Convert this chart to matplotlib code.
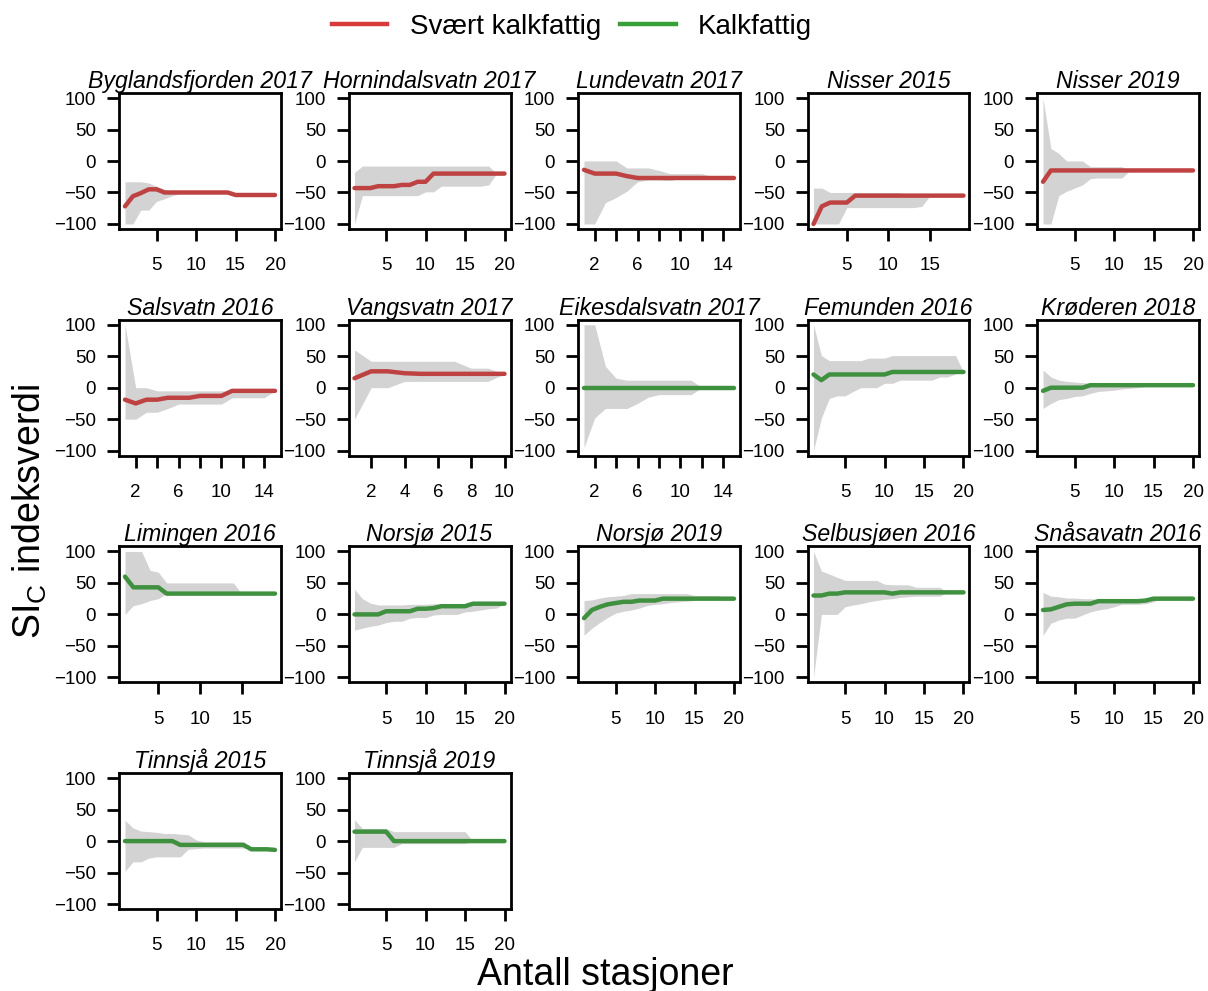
import numpy as np
import matplotlib
matplotlib.use('Agg')
import matplotlib.pyplot as plt
from matplotlib.lines import Line2D

plt.rcParams['font.family'] = 'Liberation Sans'
plt.rcParams['mathtext.fontset'] = 'custom'
plt.rcParams['mathtext.rm'] = 'Liberation Sans'
plt.rcParams['axes.unicode_minus'] = True

# lakes, in the order they are drawn
lakes = ['Byglandsfjorden 2017', 'Hornindalsvatn 2017', 'Lundevatn 2017', 'Nisser 2015',
         'Nisser 2019', 'Salsvatn 2016', 'Vangsvatn 2017', 'Eikesdalsvatn 2017',
         'Femunden 2016', 'Krøderen 2018', 'Limingen 2016', 'Norsjø 2015',
         'Norsjø 2019', 'Selbusjøen 2016', 'Snåsavatn 2016', 'Tinnsjå 2015',
         'Tinnsjå 2019']
lake_type = ['Svært kalkfattig'] * 7 + ['Kalkfattig'] * 10

# mean index value and range for 1..n stations
bygl_mid = [-72, -56, -51, -45, -45, -50, -50, -50, -50, -50, -50, -50, -50, -50, -54, -54, -54, -54, -54, -54]
bygl_hi = [-33, -33, -33, -35, -40, -45, -48, -48, -48, -48, -48, -48, -48, -49, -51, -54, -54, -54, -54, -54]
bygl_lo = [-100, -100, -78, -78, -64, -60, -55, -52, -52, -52, -52, -52, -52, -52, -54, -54, -54, -54, -54, -54]

horn_mid = [-43, -43, -43, -40, -40, -40, -38, -38, -33, -33, -20, -20, -20, -20, -20, -20, -20, -20, -20, -20]
horn_hi = [-18, -8, -8, -8, -8, -8, -8, -8, -8, -8, -8, -8, -8, -8, -8, -8, -8, -8, -20, -20]
horn_lo = [-100, -55, -55, -55, -55, -55, -55, -55, -55, -49, -49, -40, -40, -40, -40, -40, -40, -38, -20, -20]

lund_mid = [-14, -20, -20, -20, -24, -27, -27, -27, -27, -27, -27, -27, -27, -27, -27]
lund_hi = [0, 0, 0, 0, -11, -11, -11, -15, -20, -20, -20, -20, -25, -27, -27]
lund_lo = [-100, -100, -66, -58, -48, -33, -30, -30, -31, -28, -27, -27, -27, -27, -27]

nis15_mid = [-100, -72, -66, -66, -66, -55, -55, -55, -55, -55, -55, -55, -55, -55, -55, -55, -55, -55, -55]
nis15_hi = [-43, -43, -50, -50, -50, -50, -50, -50, -50, -50, -50, -52, -54, -55, -55, -55, -55, -55, -55]
nis15_lo = [-100, -100, -100, -100, -74, -74, -74, -74, -74, -74, -74, -74, -74, -72, -55, -55, -55, -55, -55]

nis19_mid = [-33, -15, -15, -15, -15, -15, -15, -15, -15, -15, -15, -15, -15, -15, -15, -15, -15, -15, -15, -15]
nis19_hi = [100, 20, 12, 0, 0, 0, -9, -9, -9, -9, -9, -15, -15, -15, -15, -15, -15, -15, -15, -15]
nis19_lo = [-100, -100, -55, -48, -43, -38, -28, -27, -27, -27, -27, -15, -15, -15, -15, -15, -15, -15, -15, -15]

sals_mid = [-19, -25, -19, -19, -16, -16, -16, -13, -13, -13, -5, -5, -5, -5, -5]
sals_hi = [100, 0, 0, -5, -5, -5, -5, -5, -5, -5, -5, -5, -5, -5, -5]
sals_lo = [-50, -50, -39, -39, -33, -26, -26, -26, -26, -26, -16, -16, -16, -16, -5]

vang_mid = [15, 26, 26, 23, 22, 22, 22, 22, 22, 22]
vang_hi = [60, 42, 42, 42, 42, 42, 42, 31, 31, 22]
vang_lo = [-50, 0, 0, 10, 10, 10, 10, 10, 10, 22]

eike_mid = [0, 0, 0, 0, 0, 0, 0, 0, 0, 0, 0, 0, 0, 0, 0]
eike_hi = [100, 100, 34, 15, 12, 12, 12, 12, 12, 12, 12, 0, 0, 0, 0]
eike_lo = [-95, -48, -33, -33, -33, -25, -15, -11, -11, -11, -11, 0, 0, 0, 0]

femu_mid = [21, 12, 21, 21, 21, 21, 21, 21, 21, 21, 25, 25, 25, 25, 25, 25, 25, 25, 25, 25]
femu_hi = [100, 51, 43, 43, 43, 43, 43, 47, 47, 47, 51, 51, 51, 51, 51, 51, 51, 51, 51, 25]
femu_lo = [-100, -48, -17, -13, -13, -6, 0, 0, 0, 7, 7, 12, 12, 12, 12, 12, 17, 17, 22, 25]

krod_mid = [-5, 0, 0, 0, 0, 0, 4, 4, 4, 4, 4, 4, 4, 4, 4, 4, 4, 4, 4, 4]
krod_hi = [28, 17, 12, 10, 9, 8, 7, 7, 6, 6, 5, 5, 5, 4, 4, 4, 4, 4, 4, 4]
krod_lo = [-33, -25, -19, -17, -14, -13, -9, -6, -5, -4, -2, -1, 0, 2, 4, 4, 4, 4, 4, 4]

limi_mid = [60, 43, 43, 43, 43, 33, 33, 33, 33, 33, 33, 33, 33, 33, 33, 33, 33, 33, 33]
limi_hi = [100, 100, 100, 70, 67, 50, 50, 50, 50, 50, 50, 50, 50, 50, 33, 33, 33, 33, 33]
limi_lo = [0, 14, 17, 22, 25, 33, 33, 33, 33, 33, 33, 33, 33, 33, 33, 33, 33, 33, 33]

nor15_mid = [0, 0, 0, 0, 5, 5, 5, 5, 9, 9, 10, 13, 13, 13, 13, 17, 17, 17, 17, 17]
nor15_hi = [40, 25, 18, 15, 15, 15, 15, 16, 16, 16, 17, 17, 17, 17, 17, 17, 17, 17, 17, 17]
nor15_lo = [-25, -22, -19, -17, -13, -11, -11, -6, -5, -5, -1, 0, 0, 0, 4, 5, 7, 9, 10, 17]

nor19_mid = [-6, 7, 12, 16, 18, 20, 20, 22, 22, 22, 25, 25, 25, 25, 25, 25, 25, 25, 25, 25]
nor19_hi = [22, 23, 26, 28, 29, 30, 33, 33, 33, 33, 33, 33, 33, 33, 30, 30, 30, 30, 25, 25]
nor19_lo = [-33, -22, -13, -5, 2, 5, 7, 10, 14, 16, 17, 19, 20, 21, 22, 25, 25, 25, 25, 25]

selb_mid = [30, 30, 33, 33, 35, 35, 35, 35, 35, 35, 33, 35, 35, 35, 35, 35, 35, 35, 35, 35]
selb_hi = [100, 69, 64, 59, 54, 54, 54, 54, 54, 48, 47, 47, 47, 43, 43, 43, 43, 35, 35, 35]
selb_lo = [-100, 0, 0, 0, 12, 15, 17, 20, 22, 24, 25, 27, 28, 29, 29, 29, 29, 35, 35, 35]

snas_mid = [7, 8, 12, 16, 17, 17, 17, 21, 21, 21, 21, 21, 21, 22, 25, 25, 25, 25, 25, 25]
snas_hi = [35, 29, 28, 26, 26, 25, 25, 24, 24, 24, 24, 24, 24, 25, 25, 25, 25, 25, 25, 25]
snas_lo = [-33, -14, -9, -6, -6, -1, 4, 7, 9, 12, 16, 16, 16, 17, 20, 25, 25, 25, 25, 25]

tin15_mid = [0, 0, 0, 0, 0, 0, 0, -6, -6, -6, -6, -6, -6, -6, -6, -6, -13, -13, -13, -14]
tin15_hi = [33, 21, 16, 15, 14, 12, 12, 11, 10, 2, -1, -1, -1, -1, -1, -1, -13, -13, -13, -14]
tin15_lo = [-48, -33, -33, -27, -25, -25, -25, -25, -13, -12, -11, -11, -11, -11, -11, -11, -13, -13, -13, -14]

tin19_mid = [15, 15, 15, 15, 15, 0, 0, 0, 0, 0, 0, 0, 0, 0, 0, 0, 0, 0, 0, 0]
tin19_hi = [34, 20, 20, 20, 20, 15, 15, 15, 15, 15, 15, 15, 15, 15, 15, 0, 0, 0, 0, 0]
tin19_lo = [-33, -10, -10, -10, -10, -10, -4, -4, -4, -4, -4, -4, -4, -4, -4, 0, 0, 0, 0, 0]

series = [
    (bygl_mid, bygl_lo, bygl_hi), (horn_mid, horn_lo, horn_hi), (lund_mid, lund_lo, lund_hi),
    (nis15_mid, nis15_lo, nis15_hi), (nis19_mid, nis19_lo, nis19_hi), (sals_mid, sals_lo, sals_hi),
    (vang_mid, vang_lo, vang_hi), (eike_mid, eike_lo, eike_hi), (femu_mid, femu_lo, femu_hi),
    (krod_mid, krod_lo, krod_hi), (limi_mid, limi_lo, limi_hi), (nor15_mid, nor15_lo, nor15_hi),
    (nor19_mid, nor19_lo, nor19_hi), (selb_mid, selb_lo, selb_hi), (snas_mid, snas_lo, snas_hi),
    (tin15_mid, tin15_lo, tin15_hi), (tin19_mid, tin19_lo, tin19_hi),
]

line_col = {'Svært kalkfattig': '#bf4242', 'Kalkfattig': '#3f903f'}
legend_col = {'Svært kalkfattig': '#d63a3a', 'Kalkfattig': '#38a038'}

W, H = 1208, 991
fig = plt.figure(figsize=(W / 100, H / 100), dpi=100)

for i, (name, kind, (mid, lo, hi)) in enumerate(zip(lakes, lake_type, series)):
    row, col = divmod(i, 5)
    left = 119 + col * 229.5
    top = 93 + row * 226.7
    ax = fig.add_axes([left / W, 1 - (top + 136) / H, 162 / W, 136 / H])

    n = len(mid)
    x = np.arange(1, n + 1)
    ax.fill_between(x, lo, hi, color='#d3d3d3', lw=0)
    ax.plot(x, mid, color=line_col[kind], lw=3.2, solid_capstyle='round', solid_joinstyle='round')

    pad = 0.04 * (n - 1)
    ax.set_xlim(1 - pad, n + pad)
    ax.set_ylim(-108, 108)
    ax.set_yticks([-100, -50, 0, 50, 100])

    step = 5 if n > 15 else 2
    ticks = list(range(step, n + 1, step))
    ax.set_xticks(ticks)
    if step == 2 and n > 12:
        ax.set_xticklabels([str(t) if k % 2 == 0 else '' for k, t in enumerate(ticks)])

    for s in ax.spines.values():
        s.set_linewidth(2)
    ax.tick_params(axis='both', direction='out', length=8.4, width=2, labelsize=13.5)
    ax.tick_params(axis='y', pad=8)
    ax.tick_params(axis='x', pad=12)
    ax.set_title(name, fontsize=16.7, style='italic', pad=3)

# legend
handles = [Line2D([], [], color=legend_col[k], lw=3.2) for k in ['Svært kalkfattig', 'Kalkfattig']]
fig.legend(handles, ['Svært kalkfattig', 'Kalkfattig'], loc='center',
           bbox_to_anchor=(572 / W, 1 - 27 / H), ncol=2, frameon=False, fontsize=20,
           handlelength=2.0, handletextpad=0.8, columnspacing=0.7, borderpad=0)

fig.text(30 / W, 1 - 511 / H, r'SI$_\mathrm{C}$ indeksverdi', rotation=90,
         fontsize=27, ha='center', va='center')
fig.text(605 / W, 1 - 985 / H, 'Antall stasjoner', fontsize=27, ha='center', va='baseline')

fig.savefig('out.png', dpi=100)
